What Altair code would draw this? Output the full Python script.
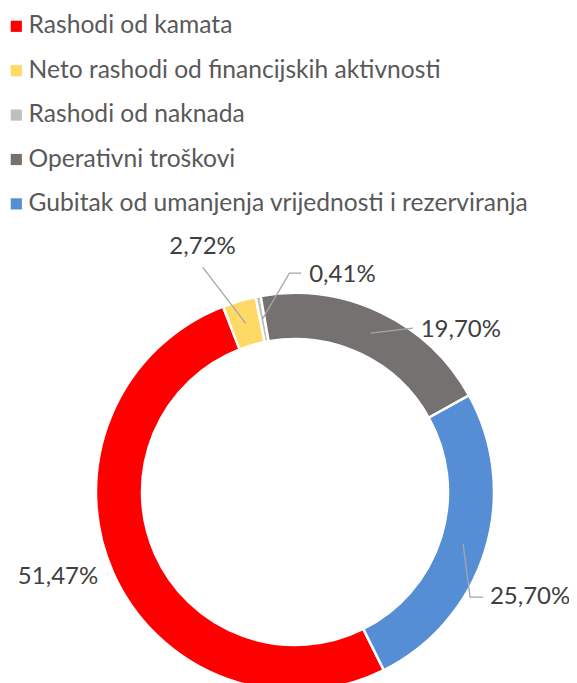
import math
import altair as alt
import pandas as pd

# ---- data ----
categories = [
    "Rashodi od kamata",
    "Neto rashodi od financijskih aktivnosti",
    "Rashodi od naknada",
    "Operativni troškovi",
    "Gubitak od umanjenja vrijednosti i rezerviranja",
]
shares = [51.47, 2.72, 0.41, 19.70, 25.70]
labels = ["51,47%", "2,72%", "0,41%", "19,70%", "25,70%"]
colors = ["#FF0000", "#FFD966", "#BFBFBF", "#767171", "#558ED5"]

# ---- layout ----
PAD_TOP = 10
W, H = 561, 670
CX, CY = 287, 484 - PAD_TOP
R_OUT, R_IN = 199, 153
R_MID = (R_OUT + R_IN) / 2
START_DEG = 153.5
FONT = "Lato"

# label text offsets from the slice mid-ring point, and leader shape
label_off = {
    0: (-76, 14),
    1: (-43, -76),
    2: (80, -44),
    3: (90, -3),
    4: (67, 53),
}
# leader end relative to text centre, horizontal elbow length
leader_end = {1: ((0, 20), 0), 2: ((-41, -2), -12), 3: ((-48, -2), 0), 4: ((-47, 0), -13)}

df = pd.DataFrame({"cat": categories, "share": shares, "label": labels, "order": list(range(len(categories)))})

total = sum(shares)
cum = 0.0
lab_rows, lead_rows = [], []
for i, v in enumerate(shares):
    mid = math.radians(START_DEG + 360.0 * (cum + v / 2) / total)
    cum += v
    sx = CX + R_MID * math.sin(mid)
    sy = CY - R_MID * math.cos(mid)
    ox, oy = label_off[i]
    tx, ty = sx + ox, sy + oy
    lab_rows.append({"cat": categories[i], "label": labels[i], "x": tx, "y": ty})
    if i in leader_end:
        (ex, ey), el = leader_end[i]
        endx, endy = tx + ex, ty + ey
        pts = [(sx, sy), (endx + el, endy), (endx, endy)]
        for k, (px, py) in enumerate(pts):
            lead_rows.append({"cat": categories[i], "k": k, "x": px, "y": py})

lab_df = pd.DataFrame(lab_rows)
lead_df = pd.DataFrame(lead_rows)

start = math.radians(START_DEG)

arc = alt.Chart(df).mark_arc(radius=R_OUT, radius2=R_IN, stroke="white", strokeWidth=2.5).encode(
    theta=alt.Theta("share:Q", stack=True, scale=alt.Scale(range=[start, start + 2 * math.pi])),
    order=alt.Order("order:Q"),
    color=alt.Color(
        "cat:N",
        scale=alt.Scale(domain=categories, range=colors),
        legend=alt.Legend(
            orient="none",
            legendX=-4,
            legendY=6 - PAD_TOP,
            title=None,
            symbolType="square",
            symbolSize=125,
            symbolStrokeWidth=0,
            labelFont=FONT,
            labelFontSize=24.6,
            labelColor="#595959",
            labelOffset=0,
            labelLimit=600,
            rowPadding=19.4,
            padding=0,
        ),
    ),
    x=alt.value(CX),
    y=alt.value(CY),
)

leaders = alt.Chart(lead_df).mark_line(color="#A6A6A6", strokeWidth=1.3).encode(
    x=alt.X("x:Q", scale=None),
    y=alt.Y("y:Q", scale=None),
    detail="cat:N",
    order="k:Q",
)

texts = alt.Chart(lab_df).mark_text(font=FONT, fontSize=24, color="#404040", align="center", baseline="middle").encode(
    x=alt.X("x:Q", scale=None),
    y=alt.Y("y:Q", scale=None),
    text="label:N",
)

chart = (
    alt.layer(arc, leaders, texts)
    .properties(
        width=W,
        height=H,
        autosize=alt.AutoSizeParams(type="none"),
        padding={"top": PAD_TOP, "left": 0, "right": 0, "bottom": 0},
    )
    .configure_view(stroke=None)
)

chart.save("out.html", embed_options={"renderer": "svg", "actions": False})
